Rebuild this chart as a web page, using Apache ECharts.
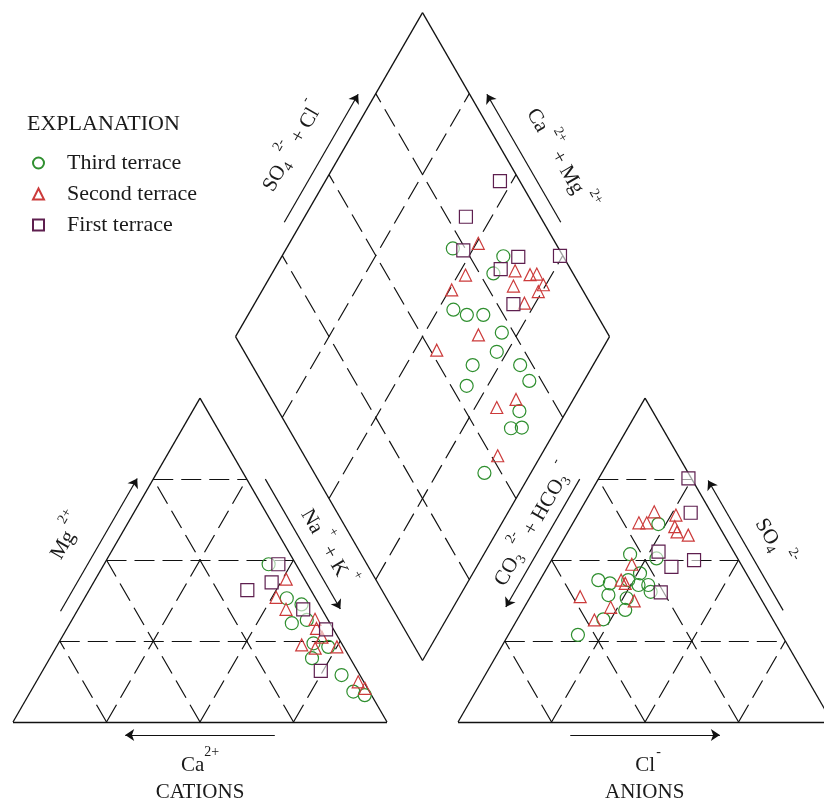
<!DOCTYPE html>
<html>
<head>
<meta charset="utf-8">
<script src="https://cdn.jsdelivr.net/npm/echarts@6/dist/echarts.min.js"></script>
<style>html,body{margin:0;padding:0;background:#fff}#c{width:824px;height:805px}</style>
</head>
<body>
<div id="c"></div>
<script>
// ---------------- DATA ----------------
const seriesNames = ['Third terrace', 'Second terrace', 'First terrace'];
const legendTitle = 'EXPLANATION';

// Cation triangle: [Ca %, Mg %]  (Na+K = remainder)
const cationThird = [[7.3,48.7],[7.7,38.2],[4.7,36.3],[10.2,30.5],[5.7,31.5],[7.5,24.3],[4.1,23.2],[10.2,19.7],[4.9,14.5],[4.3,9.4],[1.8,8.3]];
const cationSecond = [[4.9,44.1],[10.4,38.5],[9.6,34.8],[3.4,31.7],[4.4,28.9],[10.9,23.8],[7.8,22.8],[1.8,23.2],[1.5,12.4],[0.7,10.4],[4.3,26.2]];
const cationFirst = [[4.7,48.7],[9.3,43.1],[17.0,40.7],[5.0,34.8],[2.0,28.6],[9.8,15.8]];

// Anion triangle: [Cl %, SO4 %]  (CO3+HCO3 = remainder)
const anionThird = [[23.0,61.1],[20.1,51.8],[25.7,45.9],[15.6,43.8],[19.2,42.8],[27.1,42.3],[29.7,42.3],[31.4,40.2],[20.6,39.2],[26.0,38.2],[27.4,34.6],[23.0,31.7],[18.6,26.9],[27.8,50.5],[23.6,43.8]];
const anionSecond = [[20.0,64.9],[17.6,61.5],[19.7,61.5],[26.3,63.9],[27.8,60.3],[29.2,58.7],[32.7,57.7],[22.1,48.7],[21.7,43.8],[23.3,42.8],[13.3,38.7],[23.1,35.4],[28.4,37.4],[20.7,31.5]];
const anionFirst = [[24.0,75.2],[29.9,64.6],[27.3,52.6],[33.1,47.9],[38.1,50.0],[34.2,40.0]];

// Diamond: [SO4+Cl %, Ca+Mg %]
const diamondThird = [[71.7,55.5],[84.0,40.8],[78.7,40.8],[62.4,45.9],[65.2,41.5],[69.6,37.1],[71.8,29.4],[67.5,27.8],[59.0,32.2],[71.7,19.5],[54.2,30.6],[71.7,14.6],[64.4,12.6],[59.5,12.2],[62.5,9.4],[45.5,12.4]];
const diamondSecond = [[79.3,49.5],[71.0,48.0],[65.0,49.4],[84.9,35.4],[88.3,30.8],[90.2,29.1],[82.1,33.5],[90.3,25.7],[87.9,26.0],[82.4,27.9],[65.2,35.3],[51.7,44.1],[58.9,19.2],[65.3,15.3],[51.7,11.5]];
const diamondFirst = [[94.7,53.3],[80.1,56.9],[74.2,52.4],[87.9,36.7],[81.3,39.5],[99.2,25.7],[79.3,30.7]];

// grid percentages
const gridPercents = [25, 50, 75];

// ---------------- GEOMETRY (ternary -> plane units) ----------------
const GAP = 19, H = Math.sqrt(3) / 2;
const PXU = 3.74, OX = 13, OY = 722, CW = 824, CH = 805;
function cat(ca, mg) { const nak = 100 - ca - mg; return [nak + mg / 2, mg * H]; }
function ani(cl, so4) { return [100 + GAP + cl + so4 / 2, so4 * H]; }
function dia(a, c) { return [100 + GAP / 2 + (a - c) / 2, GAP * H + (a + c) * H]; }

const solidSegs = [], dashedSegs = [];
// outlines
solidSegs.push([cat(100,0), cat(0,0)], [cat(0,0), cat(0,100)], [cat(0,100), cat(100,0)]);
solidSegs.push([ani(0,0), ani(100,0)], [ani(100,0), ani(0,100)], [ani(0,100), ani(0,0)]);
solidSegs.push([dia(0,0), dia(100,0)], [dia(100,0), dia(100,100)], [dia(100,100), dia(0,100)], [dia(0,100), dia(0,0)]);
gridPercents.forEach(p => {
  dashedSegs.push([cat(100 - p, p), cat(0, p)], [cat(p, 0), cat(p, 100 - p)], [cat(100 - p, 0), cat(0, 100 - p)]);
  dashedSegs.push([ani(0, p), ani(100 - p, p)], [ani(p, 0), ani(p, 100 - p)], [ani(100 - p, 0), ani(0, 100 - p)]);
  dashedSegs.push([dia(p, 0), dia(p, 100)], [dia(0, p), dia(100, p)]);
});

function edgeArrow(P, Q, f1, f2, off) {
  const dx = Q[0] - P[0], dy = Q[1] - P[1], L = Math.hypot(dx, dy);
  const nx = -dy / L, ny = dx / L;
  return [[P[0] + dx * f1 + nx * off, P[1] + dy * f1 + ny * off], [P[0] + dx * f2 + nx * off, P[1] + dy * f2 + ny * off]];
}
const arrows = [
  edgeArrow(cat(100,0), cat(0,100), 0.32, 0.73, 3.8),     // Mg
  edgeArrow(cat(0,100), cat(0,0), 0.275, 0.676, 4.3),     // Na+K
  edgeArrow(cat(0,0), cat(100,0), 0.30, 0.70, 3.48),      // Ca
  edgeArrow(ani(0,0), ani(100,0), 0.30, 0.70, -3.48),     // Cl
  edgeArrow(ani(0,100), ani(0,0), 0.275, 0.67, -4.3),     // CO3+HCO3
  edgeArrow(ani(100,0), ani(0,100), 0.324, 0.725, -3.6),  // SO4
  edgeArrow(dia(0,100), dia(100,100), 0.33, 0.725, 4.0),  // SO4+Cl
  edgeArrow(dia(100,0), dia(100,100), 0.33, 0.725, -4.0)  // Ca+Mg
];

// ---------------- STYLE ----------------
const FONT = '"Liberation Serif", "Times New Roman", serif';
const TEXT_COLOR = '#1a1a1a';
const LINE_COLOR = '#111';
const markerStyles = [
  { symbol: 'circle', size: 13, color: '#2f8f2f' },
  { symbol: 'triangle', size: 12, color: '#cc3b3b' },
  { symbol: 'rect', size: 13, color: '#5e1f4f' }
];

const groups = [
  [cationThird, cationSecond, cationFirst, cat],
  [anionThird, anionSecond, anionFirst, ani],
  [diamondThird, diamondSecond, diamondFirst, dia]
];

const series = [];
groups.forEach(g => {
  [0, 1, 2].forEach(i => {
    const ms = markerStyles[i];
    series.push({
      type: 'scatter', name: seriesNames[i],
      data: g[i].map(p => g[3](p[0], p[1])),
      symbol: ms.symbol, symbolSize: ms.size,
      itemStyle: { color: i === 2 ? 'rgba(255,255,255,0.6)' : 'rgba(255,255,255,0)', borderColor: ms.color, borderWidth: 1.2, opacity: 1 },
      z: 5 + i, silent: true, animation: false
    });
  });
});
series.push({
  type: 'lines', coordinateSystem: 'cartesian2d', silent: true, animation: false, z: 2,
  lineStyle: { color: LINE_COLOR, width: 1.3, opacity: 1, type: 'solid' },
  data: solidSegs.map(s => ({ coords: s }))
});
series.push({
  type: 'lines', coordinateSystem: 'cartesian2d', silent: true, animation: false, z: 2,
  lineStyle: { color: LINE_COLOR, width: 1.2, opacity: 1, type: [20, 8] },
  data: dashedSegs.map(s => ({ coords: s }))
});
series.push({
  type: 'lines', coordinateSystem: 'cartesian2d', silent: true, animation: false, z: 3,
  symbol: ['none', 'arrow'], symbolSize: [0, 9],
  lineStyle: { color: LINE_COLOR, width: 1.2, opacity: 1, type: 'solid' },
  data: arrows.map(s => ({ coords: s }))
});

const chart = echarts.init(document.getElementById('c'));
chart.setOption({
  backgroundColor: '#fff',
  animation: false,
  title: { text: legendTitle, left: 22, top: 108, textStyle: { fontFamily: FONT, fontSize: 22, fontWeight: 'normal', color: TEXT_COLOR } },
  legend: {
    orient: 'vertical', left: 27, top: 147, itemWidth: 11, itemHeight: 11, itemGap: 9,
    data: seriesNames, selectedMode: false,
    textStyle: { fontFamily: FONT, fontSize: 22, color: TEXT_COLOR, lineHeight: 22, padding: [0, 0, 0, 18] }
  },
  grid: { left: 0, right: 0, top: 0, bottom: 0 },
  xAxis: { type: 'value', min: -OX / PXU, max: (CW - OX) / PXU, show: false },
  yAxis: { type: 'value', min: -(CH - OY) / PXU, max: OY / PXU, show: false },
  series: series
});

// ---------------- TEXT LABELS ----------------
const labelDefs = [
  { pos: [14.71, 49.47], rot: 60, parts: [['n','Mg'],['g',4],['sup','2+']] },
  { pos: [83.96, 46.52], rot: -60, parts: [['n','Na'],['g',4],['sup','+'],['n',' + K'],['g',4],['sup','+']] },
  { pos: [74.87, 153.74], rot: 60, parts: [['n','SO'],['sub','4'],['g',5],['sup','2-'],['n',' + Cl'],['g',2],['sup','-']] },
  { pos: [146.26, 150.27], rot: -60, parts: [['n','Ca'],['g',5],['sup','2+'],['n',' + Mg'],['g',5],['sup','2+']] },
  { pos: [139.3, 52.67], rot: 60, parts: [['n','CO'],['sub','3'],['g',5],['sup','2-'],['n',' + HCO'],['sub','3'],['g',6],['sup','-']] },
  { pos: [203.2, 47.86], rot: -60, parts: [['n','SO'],['sub','4'],['g',7],['sup','2-']] },
  { pos: [50.0, -11.5], rot: 0, parts: [['n','Ca'],['sup','2+']] },
  { pos: [50.0, -18.72], rot: 0, parts: [['n','CATIONS']] },
  { pos: [169.8, -11.5], rot: 0, parts: [['n','Cl'],['g',1],['sup','-']] },
  { pos: [168.9, -18.72], rot: 0, parts: [['n','ANIONS']] }
];
const mctx = document.createElement('canvas').getContext('2d');
function tw(t, s) { mctx.font = s + 'px ' + FONT; return mctx.measureText(t).width; }
function buildLabel(def) {
  const F = 21, f = 14;
  let cursor = 0; const items = [];
  def.parts.forEach(([kind, val]) => {
    if (kind === 'g') { cursor += val; return; }
    const s = kind === 'n' ? F : f;
    const dy = kind === 'sup' ? -0.62 * F : (kind === 'sub' ? 0.3 * F : 0);
    items.push({ val, s, x: cursor, dy });
    cursor += tw(val, s);
  });
  const half = cursor / 2;
  const p = chart.convertToPixel({ gridIndex: 0 }, def.pos);
  return {
    type: 'group', x: p[0], y: p[1], rotation: def.rot * Math.PI / 180, silent: true,
    children: items.map(it => ({
      type: 'text', x: it.x - half, y: it.dy, silent: true,
      style: { text: it.val, font: it.s + 'px ' + FONT, fill: TEXT_COLOR, textAlign: 'left', textVerticalAlign: 'middle', align: 'left', verticalAlign: 'middle' }
    }))
  };
}
chart.setOption({ graphic: labelDefs.map(buildLabel) });
</script>
</body>
</html>
